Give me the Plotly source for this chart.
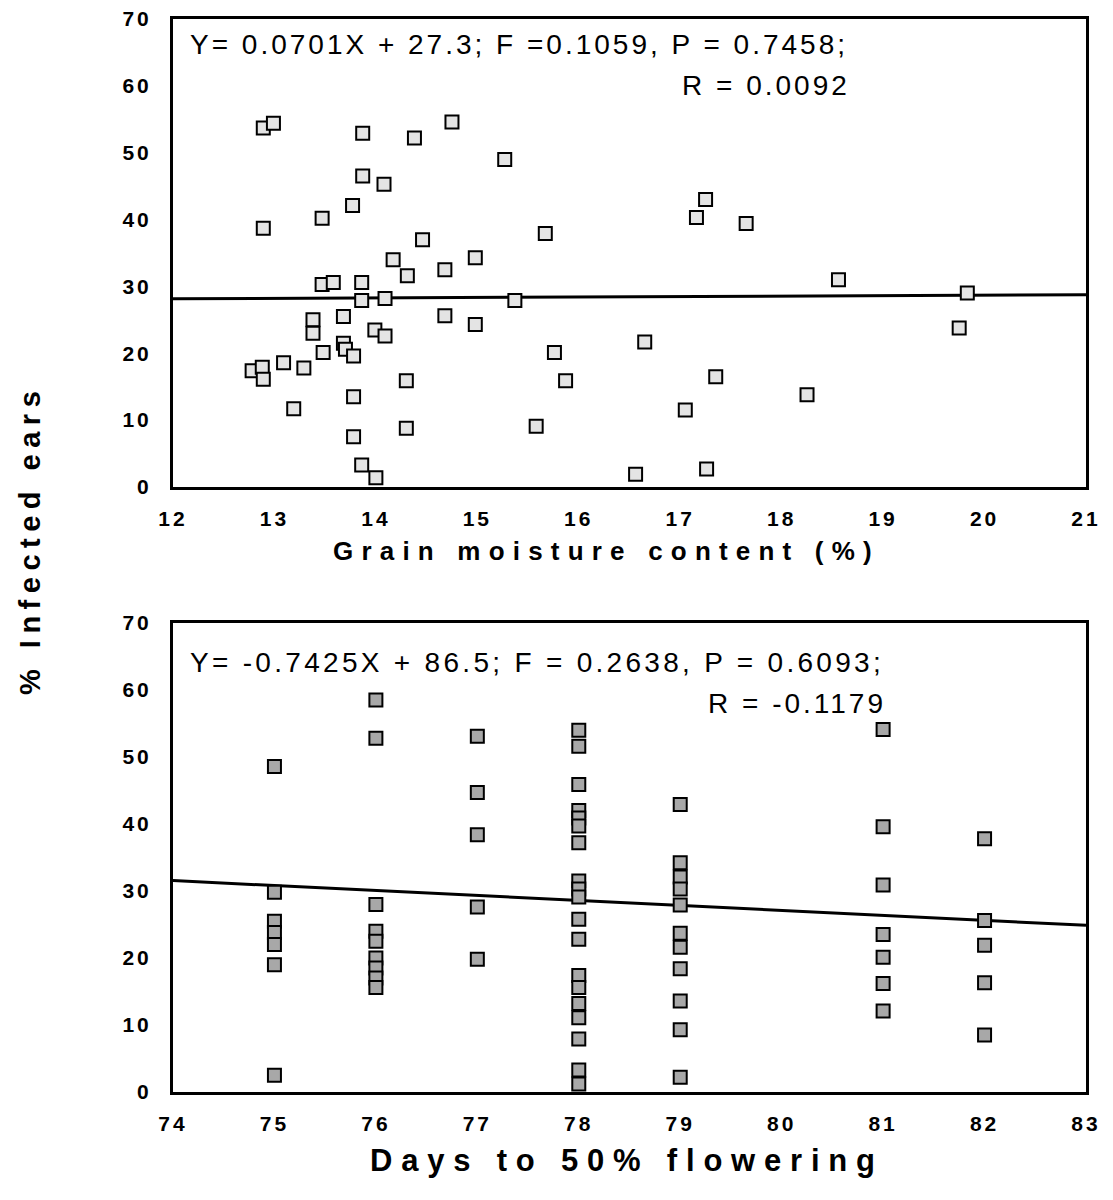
import plotly.graph_objects as go

# ---------------- Top panel data: grain moisture vs % infected ears
moisture = [12.89, 12.99, 13.87, 14.38, 14.75, 15.27, 13.87, 14.08, 13.77, 13.47,
            12.89, 14.46, 14.17, 14.31, 14.68, 14.98, 15.67, 17.25, 17.16, 17.65,
            18.56, 19.83, 19.75, 13.47, 13.58, 13.86, 13.86, 14.09, 15.37, 14.68,
            13.68, 13.38, 13.38, 13.99, 14.09, 13.68, 13.70, 13.78, 13.48, 13.09,
            13.29, 12.78, 12.88, 12.89, 14.30, 13.78, 13.19, 14.30, 13.78, 13.86,
            14.00, 14.98, 16.65, 15.76, 15.87, 17.35, 18.25, 17.05, 15.58, 16.56,
            17.26]
infected_top = [53.7, 54.4, 52.9, 52.2, 54.6, 49.0, 46.5, 45.3, 42.1, 40.2,
                38.7, 37.0, 34.0, 31.6, 32.5, 34.3, 37.9, 43.0, 40.3, 39.4,
                31.0, 29.0, 23.8, 30.3, 30.6, 30.6, 27.9, 28.2, 27.9, 25.6,
                25.5, 25.0, 23.0, 23.5, 22.6, 21.5, 20.6, 19.6, 20.1, 18.6,
                17.8, 17.4, 17.9, 16.1, 15.9, 13.5, 11.7, 8.8, 7.5, 3.3,
                1.4, 24.3, 21.7, 20.1, 15.9, 16.5, 13.8, 11.5, 9.1, 1.9,
                2.7]
top_slope, top_intercept = 0.0701, 27.3
top_xrange = [12, 21]
top_xticks = list(range(12, 22))

# ---------------- Bottom panel data: days to 50% flowering vs % infected ears
days_75 = [48.6, 29.8, 25.5, 23.8, 22.0, 19.0, 2.5]
days_76 = [58.5, 52.8, 28.0, 24.0, 22.5, 20.0, 18.5, 17.0, 15.6]
days_77 = [53.1, 44.7, 38.4, 27.6, 19.8]
days_78 = [54.0, 51.6, 45.9, 42.0, 40.9, 39.7, 37.2, 31.5, 30.3, 29.1,
           25.8, 22.8, 17.4, 15.6, 13.2, 11.1, 7.9, 3.3, 1.2]
days_79 = [42.9, 34.2, 32.1, 30.3, 27.9, 23.7, 21.6, 18.4, 13.6, 9.3, 2.2]
days_81 = [54.1, 39.6, 30.9, 23.5, 20.1, 16.2, 12.1]
days_82 = [37.8, 25.6, 21.9, 16.3, 8.5]
flower_groups = {75: days_75, 76: days_76, 77: days_77, 78: days_78,
                 79: days_79, 81: days_81, 82: days_82}
bot_slope, bot_intercept = -0.7425, 86.5
bot_xrange = [74, 83]
bot_xticks = list(range(74, 84))
y_ticks = list(range(0, 80, 10))

days = [d for d, vals in flower_groups.items() for _ in vals]
infected_bot = [v for vals in flower_groups.values() for v in vals]

W, H = 1113, 1200
x_dom = [173 / W, 1086 / W]
top_dom = [1 - 487 / H, 1 - 19 / H]
bot_dom = [1 - 1092 / H, 1 - 623 / H]


def spaced(s, px):
    return f'<span style="letter-spacing:{px}px">{s}</span>'


fig = go.Figure()

fig.add_trace(go.Scatter(
    x=top_xrange, y=[top_slope * v + top_intercept for v in top_xrange],
    mode="lines", line=dict(color="black", width=3), xaxis="x", yaxis="y",
    showlegend=False, hoverinfo="skip"))
fig.add_trace(go.Scatter(
    x=moisture, y=infected_top, mode="markers", xaxis="x", yaxis="y",
    marker=dict(symbol="square", size=13, color="#e4e4e4",
                line=dict(color="black", width=2)),
    showlegend=False))

fig.add_trace(go.Scatter(
    x=bot_xrange, y=[bot_slope * v + bot_intercept for v in bot_xrange],
    mode="lines", line=dict(color="black", width=3), xaxis="x2", yaxis="y2",
    showlegend=False, hoverinfo="skip"))
fig.add_trace(go.Scatter(
    x=days, y=infected_bot, mode="markers", xaxis="x2", yaxis="y2",
    marker=dict(symbol="square", size=13, color="#a8a8a8",
                line=dict(color="black", width=2)),
    showlegend=False))

tickfont = dict(family="Liberation Sans, Arial, sans-serif", size=21, color="black", weight="bold")
common = dict(showline=True, linecolor="black", linewidth=3, mirror=True,
              showgrid=False, zeroline=False, ticks="", automargin=False,
              tickfont=tickfont, tickmode="array")

fig.update_layout(
    width=W, height=H,
    margin=dict(l=0, r=0, t=0, b=0, autoexpand=False),
    plot_bgcolor="white", paper_bgcolor="white",
    xaxis=dict(domain=x_dom, range=top_xrange, anchor="y", tickvals=top_xticks,
               ticktext=[spaced(t, 3) for t in top_xticks], ticklabelstandoff=11, **common),
    yaxis=dict(domain=top_dom, range=[0, 70], anchor="x", tickvals=y_ticks,
               ticktext=[spaced(t, 3) for t in y_ticks], ticklabelstandoff=14, **common),
    xaxis2=dict(domain=x_dom, range=bot_xrange, anchor="y2", tickvals=bot_xticks,
                ticktext=[spaced(t, 3) for t in bot_xticks], ticklabelstandoff=11, **common),
    yaxis2=dict(domain=bot_dom, range=[0, 70], anchor="x2", tickvals=y_ticks,
                ticktext=[spaced(t, 3) for t in y_ticks], ticklabelstandoff=14, **common),
)

def bold(size):
    return dict(family="Liberation Sans, Arial, sans-serif", size=size, color="black", weight="bold")


eqfont = dict(family="Liberation Sans, Arial, sans-serif", size=28, color="black")

annotations = [
    dict(text=spaced("Grain moisture content (%)", 8.2), x=606 / W, y=1 - 551 / H,
         xref="paper", yref="paper", showarrow=False, font=bold(26),
         xanchor="center", yanchor="middle"),
    dict(text=spaced("Days to 50% flowering", 8.8), x=627 / W, y=1 - 1160 / H,
         xref="paper", yref="paper", showarrow=False, font=bold(31),
         xanchor="center", yanchor="middle"),
    dict(text=spaced("% Infected ears", 6.5), x=30 / W, y=1 - 540 / H, textangle=-90,
         xref="paper", yref="paper", showarrow=False, font=bold(29),
         xanchor="center", yanchor="middle"),
    dict(text=spaced("Y= 0.0701X + 27.3; F =0.1059, P = 0.7458;", 3), x=188 / W, y=1 - 45 / H,
         xref="paper", yref="paper", showarrow=False, font=eqfont,
         xanchor="left", yanchor="middle"),
    dict(text=spaced("R = 0.0092", 3), x=852 / W, y=1 - 86 / H,
         xref="paper", yref="paper", showarrow=False, font=eqfont,
         xanchor="right", yanchor="middle"),
    dict(text=spaced("Y= -0.7425X + 86.5; F = 0.2638, P = 0.6093;", 3.3), x=188 / W, y=1 - 662 / H,
         xref="paper", yref="paper", showarrow=False, font=eqfont,
         xanchor="left", yanchor="middle"),
    dict(text=spaced("R = -0.1179", 3), x=888 / W, y=1 - 703 / H,
         xref="paper", yref="paper", showarrow=False, font=eqfont,
         xanchor="right", yanchor="middle"),
]
fig.update_layout(annotations=annotations)

fig.write_html("out.html", config={"displayModeBar": False},
               post_script="document.body.style.margin='0';")
